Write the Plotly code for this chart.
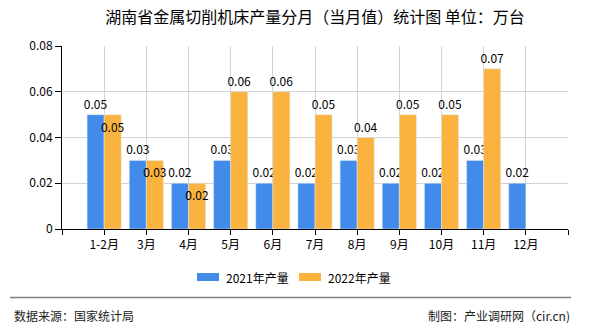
import plotly.graph_objects as go

categories = ["1-2月", "3月", "4月", "5月", "6月", "7月", "8月", "9月", "10月", "11月", "12月"]
values_2021 = [0.05, 0.03, 0.02, 0.03, 0.02, 0.02, 0.03, 0.02, 0.02, 0.03, 0.02]
values_2022 = [0.05, 0.03, 0.02, 0.06, 0.06, 0.05, 0.04, 0.05, 0.05, 0.07, None]
series_names = ["2021年产量", "2022年产量"]
colors = ["#428BEB", "#FBB33F"]
y_ticks = [0, 0.02, 0.04, 0.06, 0.08]
title_text = "湖南省金属切削机床产量分月（当月值）统计图 单位：万台"
source_left = "数据来源：国家统计局"
source_right = "制图：产业调研网（cir.cn)"

W, H = 590, 330
ML, MR, MT, MB = 62, 22, 46, 101
PW, PH = W - ML - MR, H - MT - MB
FONT = "Noto Sans CJK SC, Noto Sans, sans-serif"


def px_x(px):
    return (px - ML) / PW


def px_y(py):
    return (H - MB - py) / PH


xs = list(range(len(categories)))

fig = go.Figure()

fig.add_trace(go.Bar(
    x=xs, y=values_2021, name=series_names[0], marker_color=colors[0],
    text=[f"{v:.2f}" if v is not None else "" for v in values_2021],
    textposition="outside", cliponaxis=False, constraintext="none", textangle=0,
    textfont=dict(color="#000", size=12, family=FONT),
    showlegend=False,
))

pos22 = []
for a, b in zip(values_2021, values_2022):
    pos22.append("inside" if (b is not None and a == b) else "outside")

fig.add_trace(go.Bar(
    x=xs, y=values_2022, name=series_names[1], marker_color=colors[1],
    text=[f"{v:.2f}" if v is not None else "" for v in values_2022],
    textposition=pos22, insidetextanchor="end", cliponaxis=False, constraintext="none",
    textangle=0,
    textfont=dict(color="#000", size=12, family=FONT),
    insidetextfont=dict(color="#000", size=12, family=FONT),
    outsidetextfont=dict(color="#000", size=12, family=FONT),
    showlegend=False,
))

tickvals = [-1] + xs + [len(categories)]
ticktext = [""] + categories + [""]

fig.update_layout(
    width=W, height=H,
    margin=dict(l=ML, r=MR, t=MT, b=MB, pad=0),
    paper_bgcolor="white", plot_bgcolor="white",
    barmode="group", bargap=0.19, bargroupgap=0,
    font=dict(family=FONT, size=12, color="#000"),
    title=dict(text=title_text, x=0.5, xref="paper", xanchor="center",
               y=1 - 17 / H, yref="container", yanchor="middle",
               font=dict(size=16, family=FONT, color="#000")),
    xaxis=dict(range=[-1, len(categories)], tickmode="array", tickvals=tickvals, ticktext=ticktext,
               showline=True, linecolor="#000", linewidth=1, ticks="outside", ticklen=5,
               tickcolor="#000", showgrid=True, gridcolor="#d3d3d3", gridwidth=1,
               zeroline=False, tickfont=dict(size=12, family=FONT, color="#000")),
    yaxis=dict(range=[0, 0.08], tickmode="array", tickvals=y_ticks,
               ticktext=[("%g" % v) for v in y_ticks],
               showline=True, linecolor="#000", linewidth=1, ticks="outside", ticklen=6,
               tickcolor="#000", showgrid=True, gridcolor="#d3d3d3", gridwidth=1,
               zeroline=False, tickfont=dict(size=12, family=FONT, color="#000")),
)

shapes = []
annotations = []

# custom legend
legend_items = [(197, 224, series_names[0], colors[0]), (299, 326, series_names[1], colors[1])]
for sx, tx, name, col in legend_items:
    shapes.append(dict(type="rect", xref="paper", yref="paper",
                       x0=px_x(sx), x1=px_x(sx + 22), y0=px_y(281), y1=px_y(273),
                       fillcolor=col, line=dict(width=0)))
    annotations.append(dict(xref="paper", yref="paper", x=px_x(tx), y=px_y(277),
                            text=name, showarrow=False, xanchor="left", yanchor="middle",
                            font=dict(size=12, family=FONT, color="#000")))

# footer
shapes.append(dict(type="line", xref="paper", yref="paper",
                   x0=px_x(10), x1=px_x(571), y0=px_y(297.5), y1=px_y(297.5),
                   line=dict(color="#808080", width=1.5)))
annotations.append(dict(xref="paper", yref="paper", x=px_x(12), y=px_y(315),
                        text=source_left, showarrow=False, xanchor="left", yanchor="middle",
                        font=dict(size=12, family=FONT, color="#222")))
annotations.append(dict(xref="paper", yref="paper", x=px_x(572), y=px_y(315),
                        text=source_right, showarrow=False, xanchor="right", yanchor="middle",
                        font=dict(size=12, family=FONT, color="#222")))

fig.update_layout(shapes=shapes, annotations=annotations)

fig.write_html("out.html")
